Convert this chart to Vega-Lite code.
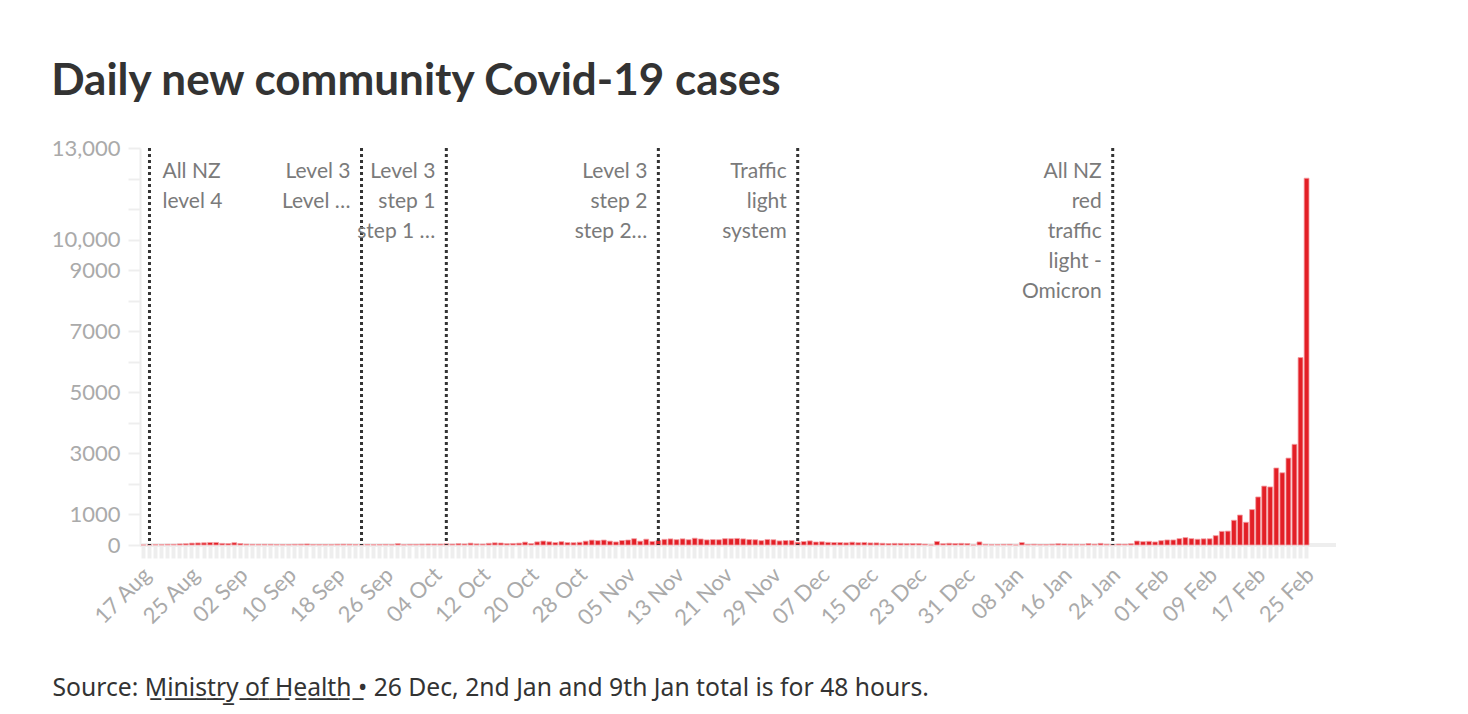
{
 "$schema": "https://vega.github.io/schema/vega-lite/v6.json",
 "width": 1196,
 "height": 397,
 "autosize": {"type": "none"},
 "padding": {"left": 140, "top": 148, "right": 132, "bottom": 169},
 "background": "white",
 "config": {"view": {"stroke": null}, "font": "Lato", "axisY": {"labelOverlap": false, "labelFlush": false}, "axisX": {"labelOverlap": false}},
 "title": {"text": "Daily new community Covid-19 cases", "anchor": "start", "frame": "bounds", "fontSize": 44, "fontWeight": "bold", "color": "#333333", "font": "Lato", "baseline": "alphabetic", "offset": -2},
 "datasets": {
  "cases": [
   {"d":"17 Aug","v":1},{"d":"18 Aug","v":6},{"d":"19 Aug","v":11},{"d":"20 Aug","v":11},{"d":"21 Aug","v":21},{"d":"22 Aug","v":21},{"d":"23 Aug","v":35},{"d":"24 Aug","v":41},{"d":"25 Aug","v":62},{"d":"26 Aug","v":68},{"d":"27 Aug","v":70},{"d":"28 Aug","v":82},{"d":"29 Aug","v":83},{"d":"30 Aug","v":53},{"d":"31 Aug","v":49},
   {"d":"01 Sep","v":75},{"d":"02 Sep","v":49},{"d":"03 Sep","v":28},{"d":"04 Sep","v":20},{"d":"05 Sep","v":20},{"d":"06 Sep","v":21},{"d":"07 Sep","v":20},{"d":"08 Sep","v":15},{"d":"09 Sep","v":11},{"d":"10 Sep","v":13},{"d":"11 Sep","v":20},{"d":"12 Sep","v":23},{"d":"13 Sep","v":33},{"d":"14 Sep","v":15},{"d":"15 Sep","v":15},{"d":"16 Sep","v":13},{"d":"17 Sep","v":11},{"d":"18 Sep","v":22},{"d":"19 Sep","v":24},{"d":"20 Sep","v":22},{"d":"21 Sep","v":14},{"d":"22 Sep","v":15},{"d":"23 Sep","v":17},{"d":"24 Sep","v":9},{"d":"25 Sep","v":15},{"d":"26 Sep","v":18},{"d":"27 Sep","v":12},{"d":"28 Sep","v":45},{"d":"29 Sep","v":8},{"d":"30 Sep","v":19},
   {"d":"01 Oct","v":19},{"d":"02 Oct","v":27},{"d":"03 Oct","v":33},{"d":"04 Oct","v":29},{"d":"05 Oct","v":29},{"d":"06 Oct","v":39},{"d":"07 Oct","v":29},{"d":"08 Oct","v":44},{"d":"09 Oct","v":34},{"d":"10 Oct","v":60},{"d":"11 Oct","v":35},{"d":"12 Oct","v":30},{"d":"13 Oct","v":55},{"d":"14 Oct","v":71},{"d":"15 Oct","v":65},{"d":"16 Oct","v":43},{"d":"17 Oct","v":51},{"d":"18 Oct","v":60},{"d":"19 Oct","v":94},{"d":"20 Oct","v":48},{"d":"21 Oct","v":102},{"d":"22 Oct","v":129},{"d":"23 Oct","v":104},{"d":"24 Oct","v":80},{"d":"25 Oct","v":109},{"d":"26 Oct","v":79},{"d":"27 Oct","v":74},{"d":"28 Oct","v":89},{"d":"29 Oct","v":125},{"d":"30 Oct","v":160},{"d":"31 Oct","v":143},
   {"d":"01 Nov","v":162},{"d":"02 Nov","v":126},{"d":"03 Nov","v":100},{"d":"04 Nov","v":147},{"d":"05 Nov","v":163},{"d":"06 Nov","v":206},{"d":"07 Nov","v":125},{"d":"08 Nov","v":190},{"d":"09 Nov","v":117},{"d":"10 Nov","v":147},{"d":"11 Nov","v":185},{"d":"12 Nov","v":200},{"d":"13 Nov","v":175},{"d":"14 Nov","v":201},{"d":"15 Nov","v":173},{"d":"16 Nov","v":222},{"d":"17 Nov","v":197},{"d":"18 Nov","v":167},{"d":"19 Nov","v":178},{"d":"20 Nov","v":172},{"d":"21 Nov","v":207},{"d":"22 Nov","v":205},{"d":"23 Nov","v":215},{"d":"24 Nov","v":200},{"d":"25 Nov","v":178},{"d":"26 Nov","v":173},{"d":"27 Nov","v":143},{"d":"28 Nov","v":181},{"d":"29 Nov","v":172},{"d":"30 Nov","v":134},
   {"d":"01 Dec","v":146},{"d":"02 Dec","v":149},{"d":"03 Dec","v":92},{"d":"04 Dec","v":114},{"d":"05 Dec","v":135},{"d":"06 Dec","v":98},{"d":"07 Dec","v":106},{"d":"08 Dec","v":87},{"d":"09 Dec","v":80},{"d":"10 Dec","v":81},{"d":"11 Dec","v":71},{"d":"12 Dec","v":92},{"d":"13 Dec","v":74},{"d":"14 Dec","v":83},{"d":"15 Dec","v":68},{"d":"16 Dec","v":69},{"d":"17 Dec","v":56},{"d":"18 Dec","v":48},{"d":"19 Dec","v":53},{"d":"20 Dec","v":52},{"d":"21 Dec","v":43},{"d":"22 Dec","v":49},{"d":"23 Dec","v":45},{"d":"24 Dec","v":28},{"d":"25 Dec","v":0},{"d":"26 Dec","v":115},{"d":"27 Dec","v":42},{"d":"28 Dec","v":56},{"d":"29 Dec","v":49},{"d":"30 Dec","v":54},{"d":"31 Dec","v":47},
   {"d":"01 Jan","v":0},{"d":"02 Jan","v":100},{"d":"03 Jan","v":20},{"d":"04 Jan","v":10},{"d":"05 Jan","v":15},{"d":"06 Jan","v":20},{"d":"07 Jan","v":22},{"d":"08 Jan","v":0},{"d":"09 Jan","v":80},{"d":"10 Jan","v":17},{"d":"11 Jan","v":23},{"d":"12 Jan","v":14},{"d":"13 Jan","v":14},{"d":"14 Jan","v":24},{"d":"15 Jan","v":40},{"d":"16 Jan","v":33},{"d":"17 Jan","v":25},{"d":"18 Jan","v":24},{"d":"19 Jan","v":18},{"d":"20 Jan","v":45},{"d":"21 Jan","v":25},{"d":"22 Jan","v":53},{"d":"23 Jan","v":25},{"d":"24 Jan","v":14},{"d":"25 Jan","v":31},{"d":"26 Jan","v":25},{"d":"27 Jan","v":40},{"d":"28 Jan","v":130},{"d":"29 Jan","v":110},{"d":"30 Jan","v":120},{"d":"31 Jan","v":100},
   {"d":"01 Feb","v":142},{"d":"02 Feb","v":165},{"d":"03 Feb","v":165},{"d":"04 Feb","v":209},{"d":"05 Feb","v":243},{"d":"06 Feb","v":208},{"d":"07 Feb","v":188},{"d":"08 Feb","v":202},{"d":"09 Feb","v":204},{"d":"10 Feb","v":306},{"d":"11 Feb","v":446},{"d":"12 Feb","v":454},{"d":"13 Feb","v":810},{"d":"14 Feb","v":981},{"d":"15 Feb","v":744},{"d":"16 Feb","v":1160},{"d":"17 Feb","v":1573},{"d":"18 Feb","v":1929},{"d":"19 Feb","v":1901},{"d":"20 Feb","v":2522},{"d":"21 Feb","v":2365},{"d":"22 Feb","v":2846},{"d":"23 Feb","v":3297},{"d":"24 Feb","v":6137},{"d":"25 Feb","v":12011}
  ],
  "events": [
   {"d":"18 Aug","label":"All NZ\nlevel 4","side":"r"},
   {"d":"22 Sep","label":"Level 3\nLevel …","side":"l"},
   {"d":"06 Oct","label":"Level 3\nstep 1\nstep 1 …","side":"l"},
   {"d":"10 Nov","label":"Level 3\nstep 2\nstep 2…","side":"l"},
   {"d":"03 Dec","label":"Traffic\nlight\nsystem","side":"l"},
   {"d":"24 Jan","label":"All NZ\nred\ntraffic\nlight -\nOmicron","side":"l"}
  ]
 },
 "layer": [
  {
   "data": {"name": "cases"},
   "mark": {"type": "rule", "color": "#eeeeee", "strokeWidth": 3},
   "encoding": {"y": {"datum": 0, "type": "quantitative",
     "axis": {
      "title": null, "grid": false, "labelOverlap": false, "labelFlush": false,
      "values": [0,1000,2000,3000,4000,5000,6000,7000,8000,9000,10000,11000,12000,13000],
      "labelExpr": "datum.value == 10000 || datum.value == 13000 ? format(datum.value, ',') : ((datum.value == 0 || datum.value % 2000 == 1000) && datum.value < 10000 ? format(datum.value, 'd') : '')",
      "tickSize": 12, "tickWidth": 2, "tickColor": "#eeeeee", "domainColor": "#eeeeee", "domainWidth": 2,
      "labelPadding": 8, "labelFontSize": 22, "labelColor": "#aaaaaa", "labelFont": "Lato"
     }}}
  },
  {
   "data": {"name": "cases"},
   "mark": {"type": "bar", "color": "#e31f26", "stroke": "#f4a0a4", "strokeWidth": 0.8},
   "encoding": {
    "x": {"field": "d", "type": "ordinal", "sort": null,
     "scale": {"paddingInner": 0.2, "paddingOuter": 0, "range": [1, 1169]},
     "axis": {
      "title": "Source: M̲i̲n̲i̲s̲t̲r̲y̲ ̲o̲f̲ ̲H̲e̲a̲l̲t̲h̲ ̲• 26 Dec, 2nd Jan and 9th Jan total is for 48 hours.",
      "titleAnchor": "start", "titleAlign": "left", "titleX": -88, "titleY": 150, "titleBaseline": "alphabetic",
      "titleFontSize": 24.7, "titleFontWeight": "normal", "titleColor": "#333333", "titleFont": "Noto Sans",
      "labelAngle": -45, "labelAlign": "right", "labelBaseline": "middle", "labelFontSize": 22, "labelColor": "#aaaaaa", "labelPadding": 13, "labelOffset": 4, "labelOverlap": false, "labelFont": "Lato",
      "labelExpr": "indexof(['17 Aug','25 Aug','02 Sep','10 Sep','18 Sep','26 Sep','04 Oct','12 Oct','20 Oct','28 Oct','05 Nov','13 Nov','21 Nov','29 Nov','07 Dec','15 Dec','23 Dec','31 Dec','08 Jan','16 Jan','24 Jan','01 Feb','09 Feb','17 Feb','25 Feb'], datum.value) >= 0 ? datum.value : ''",
      "tickColor": "#eeeeee", "tickWidth": 4, "tickSize": 13, "domain": false
     }
    },
    "y": {"field": "v", "type": "quantitative",
     "scale": {"domain": [0, 13000], "nice": false},
     "axis": {
      "title": null, "grid": false, "labelOverlap": false, "labelFlush": false,
      "values": [0,1000,2000,3000,4000,5000,6000,7000,8000,9000,10000,11000,12000,13000],
      "labelExpr": "datum.value == 10000 || datum.value == 13000 ? format(datum.value, ',') : ((datum.value == 0 || datum.value % 2000 == 1000) && datum.value < 10000 ? format(datum.value, 'd') : '')",
      "tickSize": 12, "tickWidth": 2, "tickColor": "#eeeeee", "domainColor": "#eeeeee", "domainWidth": 2,
      "labelPadding": 8, "labelFontSize": 22, "labelColor": "#aaaaaa", "labelFont": "Lato"
     }
    }
   }
  },
  {
   "data": {"name": "events"},
   "mark": {"type": "rule", "color": "#333333", "strokeWidth": 3, "strokeDash": [3, 3]},
   "encoding": {"x": {"field": "d", "type": "ordinal", "sort": null}}
  },
  {
   "data": {"name": "events"},
   "transform": [{"filter": "datum.side == 'r'"}],
   "mark": {"type": "text", "align": "left", "baseline": "alphabetic", "dx": 13, "fontSize": 21, "lineHeight": 30, "lineBreak": "\n", "color": "#7a7a7a", "font": "Lato"},
   "encoding": {"x": {"field": "d", "type": "ordinal", "sort": null}, "y": {"datum": 12020, "type": "quantitative",
     "axis": {
      "title": null, "grid": false, "labelOverlap": false, "labelFlush": false,
      "values": [0,1000,2000,3000,4000,5000,6000,7000,8000,9000,10000,11000,12000,13000],
      "labelExpr": "datum.value == 10000 || datum.value == 13000 ? format(datum.value, ',') : ((datum.value == 0 || datum.value % 2000 == 1000) && datum.value < 10000 ? format(datum.value, 'd') : '')",
      "tickSize": 12, "tickWidth": 2, "tickColor": "#eeeeee", "domainColor": "#eeeeee", "domainWidth": 2,
      "labelPadding": 8, "labelFontSize": 22, "labelColor": "#aaaaaa", "labelFont": "Lato"
     }}, "text": {"field": "label"}}
  },
  {
   "data": {"name": "events"},
   "transform": [{"filter": "datum.side == 'l'"}],
   "mark": {"type": "text", "align": "right", "baseline": "alphabetic", "dx": -11, "fontSize": 21, "lineHeight": 30, "lineBreak": "\n", "color": "#7a7a7a", "font": "Lato"},
   "encoding": {"x": {"field": "d", "type": "ordinal", "sort": null}, "y": {"datum": 12020, "type": "quantitative",
     "axis": {
      "title": null, "grid": false, "labelOverlap": false, "labelFlush": false,
      "values": [0,1000,2000,3000,4000,5000,6000,7000,8000,9000,10000,11000,12000,13000],
      "labelExpr": "datum.value == 10000 || datum.value == 13000 ? format(datum.value, ',') : ((datum.value == 0 || datum.value % 2000 == 1000) && datum.value < 10000 ? format(datum.value, 'd') : '')",
      "tickSize": 12, "tickWidth": 2, "tickColor": "#eeeeee", "domainColor": "#eeeeee", "domainWidth": 2,
      "labelPadding": 8, "labelFontSize": 22, "labelColor": "#aaaaaa", "labelFont": "Lato"
     }}, "text": {"field": "label"}}
  }
 ]
}
